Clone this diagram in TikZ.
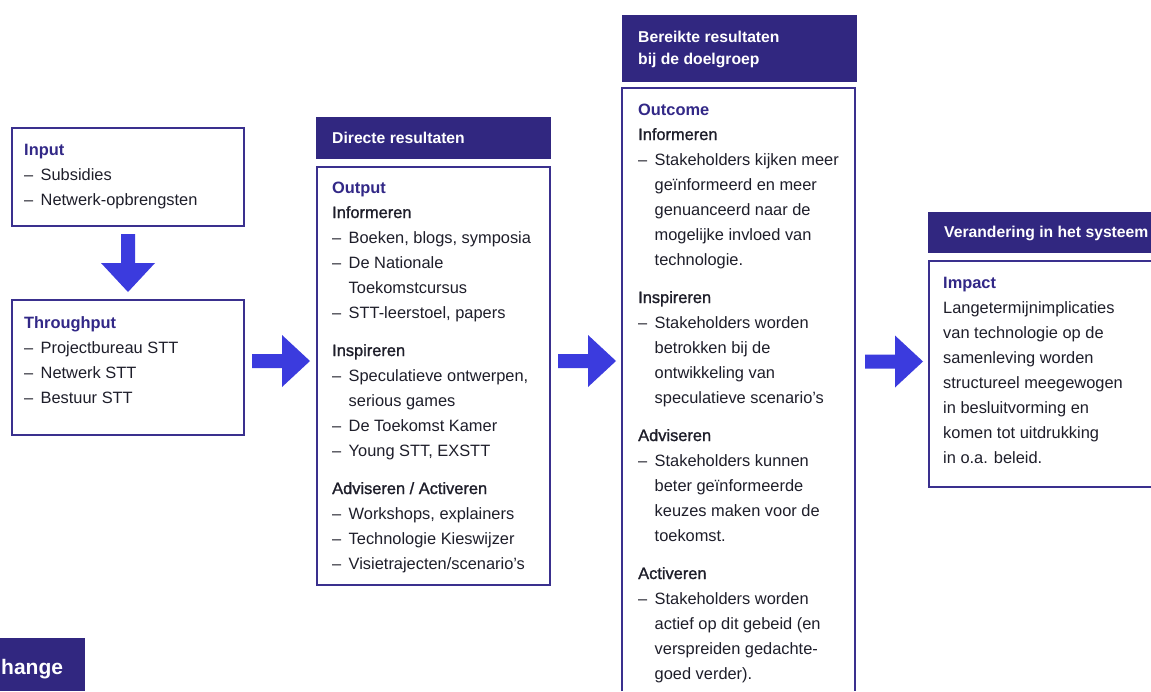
\documentclass[tikz,border=0pt]{standalone}
\usepackage{fontspec}
\setmainfont{Liberation Sans}
\newfontfamily\medfont[FakeBold=1.3]{Liberation Sans}
\definecolor{hdrc}{RGB}{49,39,128}
\definecolor{brdc}{RGB}{58,48,142}
\definecolor{arrc}{RGB}{59,59,222}
\definecolor{ttlc}{RGB}{50,40,135}
\definecolor{txtc}{RGB}{30,30,42}
\newcommand{\itemline}[1]{{\hangindent=16.5pt\hangafter=1\noindent\makebox[16.5pt][l]{–}#1\par}}
\newcommand{\secthead}[1]{\vspace{13pt}{\noindent\medfont #1}\par}
\newcommand{\firsthead}[1]{{\noindent\medfont #1}\par}
\newcommand{\boxtitle}[1]{{\noindent\bfseries\color{ttlc}#1}\par}
\tikzset{
  x=1pt, y=-1pt,
  framebox/.style={draw=brdc, line width=1.5pt},
  hdrbox/.style={fill=hdrc, draw=none},
  body/.style={anchor=base west, inner sep=0pt, text=txtc, font=\fontsize{16.4}{25}\selectfont},
  hdrtext/.style={anchor=base west, inner sep=0pt, text=white, font=\fontsize{15.7}{22}\selectfont\bfseries},
  rarrow/.pic={\fill[arrc] (0,-7)--(30,-7)--(30,-26)--(58,0)--(30,26)--(30,7)--(0,7)--cycle;},
  darrow/.pic={\fill[arrc] (-7,0)--(7,0)--(7,29)--(27,29)--(0,58)--(-27,29)--(-7,29)--cycle;}
}
\begin{document}
\begin{tikzpicture}
\useasboundingbox (0,0) rectangle (1151,691);
\fill[white] (0,0) rectangle (1151,691);

% boxes
\draw[framebox] (12,128) rectangle (244,226);
\draw[framebox] (12,300) rectangle (244,435);
\draw[framebox] (317,167) rectangle (550,585);
\draw[framebox] (622,691) -- (622,88) -- (855,88) -- (855,691);
\draw[framebox] (1151,261) -- (929,261) -- (929,487) -- (1151,487);

% headers
\fill[hdrbox] (316,117) rectangle (551,159);
\fill[hdrbox] (622,15) rectangle (857,82);
\fill[hdrbox] (928,212) rectangle (1151,253);
\fill[hdrbox] (0,638) rectangle (85,691);

\node[hdrtext] (hdir) at (332,143) {Directe resultaten};
\node[hdrtext] (hber) at (638,42) {\parbox[t]{210pt}{\raggedright Bereikte resultaten\\bij de doelgroep}};
\node[hdrtext] (hver) at (944,237) {Verandering in het systeem};
\node[hdrtext, font=\fontsize{21}{24}\selectfont\bfseries] (hchg) at (1,674) {hange};

% arrows
\pic at (128,234) {darrow};
\pic at (252,361) {rarrow};
\pic at (558,361) {rarrow};
\pic at (865,361.5) {rarrow};

% texts
\node[body] (tin) at (24,155) {\parbox[t]{215pt}{\raggedright
\boxtitle{Input}
\itemline{Subsidies}
\itemline{Netwerk-opbrengsten}}};

\node[body] (tthr) at (24,328) {\parbox[t]{215pt}{\raggedright
\boxtitle{Throughput}
\itemline{Projectbureau STT}
\itemline{Netwerk STT}
\itemline{Bestuur STT}}};

\node[body] (tout) at (332,193) {\parbox[t]{215pt}{\raggedright
\boxtitle{Output}
\firsthead{Informeren}
\itemline{Boeken, blogs, symposia}
\itemline{De Nationale\newline Toekomstcursus}
\itemline{STT-leerstoel, papers}
\secthead{Inspireren}
\itemline{Speculatieve ontwerpen,\newline serious games}
\itemline{De Toekomst Kamer}
\itemline{Young STT, EXSTT}
\secthead{Adviseren / Activeren}
\itemline{Workshops, explainers}
\itemline{Technologie Kieswijzer}
\itemline{Visietrajecten/scenario’s}}};

\node[body] (tocm) at (638,115) {\parbox[t]{215pt}{\raggedright
\boxtitle{Outcome}
\firsthead{Informeren}
\itemline{Stakeholders kijken meer\newline geïnformeerd en meer\newline genuanceerd naar de\newline mogelijke invloed van\newline technologie.}
\secthead{Inspireren}
\itemline{Stakeholders worden\newline betrokken bij de\newline ontwikkeling van\newline speculatieve scenario’s}
\secthead{Adviseren}
\itemline{Stakeholders kunnen\newline beter geïnformeerde\newline keuzes maken voor de\newline toekomst.}
\secthead{Activeren}
\itemline{Stakeholders worden\newline actief op dit gebeid (en\newline verspreiden gedachte-\newline goed verder).}}};

\node[body] (timp) at (943,288) {\parbox[t]{205pt}{\raggedright
\boxtitle{Impact}
\noindent Langetermijnimplicaties\\van technologie op de\\samenleving worden\\structureel meegewogen\\in besluitvorming en\\komen tot uitdrukking\\in o.a. beleid.\par}};
\end{tikzpicture}
\end{document}
